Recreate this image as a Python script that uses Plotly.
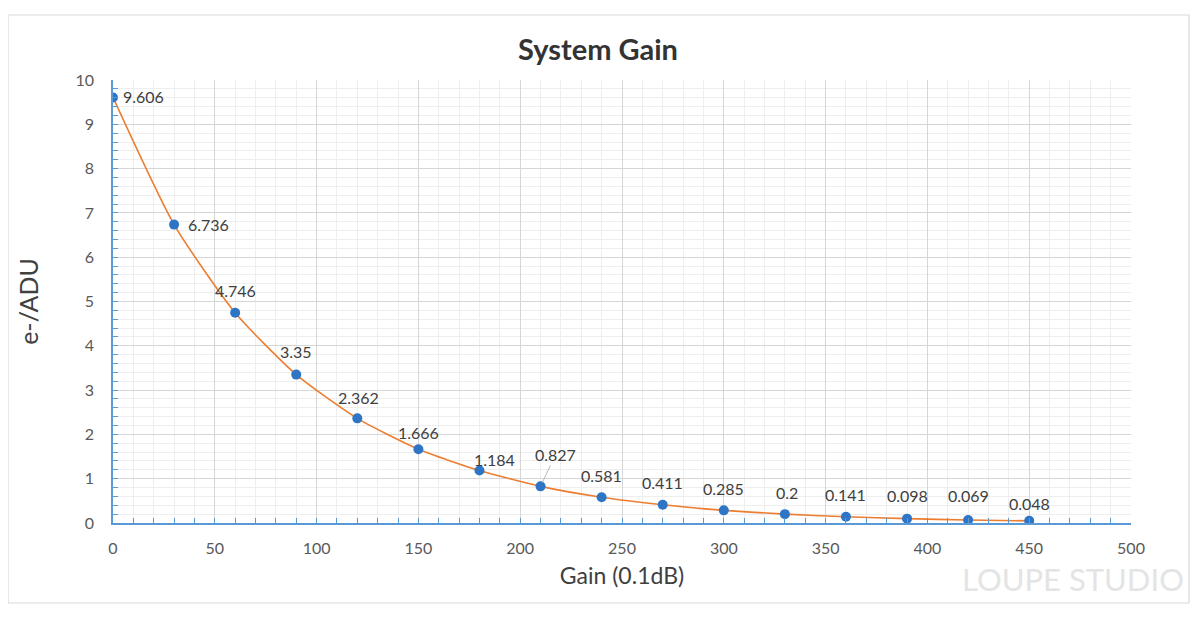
import plotly.graph_objects as go

gain = [0, 30, 60, 90, 120, 150, 180, 210, 240, 270, 300, 330, 360, 390, 420, 450]
e_adu = [9.606, 6.736, 4.746, 3.35, 2.362, 1.666, 1.184, 0.827, 0.581, 0.411,
         0.285, 0.2, 0.141, 0.098, 0.069, 0.048]
labels = ["9.606", "6.736", "4.746", "3.35", "2.362", "1.666", "1.184", "0.827", "0.581",
          "0.411", "0.285", "0.2", "0.141", "0.098", "0.069", "0.048"]
x_ticks = [0, 50, 100, 150, 200, 250, 300, 350, 400, 450, 500]
y_ticks = [0, 1, 2, 3, 4, 5, 6, 7, 8, 9, 10]

# label offsets in pixels (xshift, yshift, xanchor)
offsets = [(8, 1, "left"), (12, 0, "left"), (0, 22, "center"), (0, 23, "center"),
           (1, 21, "center"), (0, 17, "center"), (15, 11, "center"), (None, None, "arrow"),
           (0, 22, "center"), (0, 22, "center"), (0, 22, "center"), (2, 22, "center"),
           (0, 22, "center"), (0, 23, "center"), (0, 24, "center"), (0, 17, "center")]

FONT = "Lato, 'Open Sans', sans-serif"
AXIS_BLUE = "#5b9bd5"

# page body has an 8px margin: figure is placed at (8, 8) in the window
OFF = 8
FIG_W, FIG_H = 1200 - OFF, 637 - OFF
# plot area in window pixels
L, R, T, B = 113, 1131, 80, 523
W, H = R - L, B - T
def px(xp):
    return (xp - L) / W
def py(yp):
    return (B - yp) / H

fig = go.Figure()
fig.add_trace(go.Scatter(
    x=gain, y=e_adu, mode="lines+markers",
    line=dict(color="#ed7d31", width=1.6, shape="spline", smoothing=0.6),
    marker=dict(color="#2e75c6", size=10),
    showlegend=False, hoverinfo="x+y",
))

annotations = []
for xv, yv, txt, (dx, dy, anc) in zip(gain, e_adu, labels, offsets):
    if anc == "arrow":
        annotations.append(dict(x=xv, y=yv, text=txt, showarrow=True, arrowhead=0,
                                arrowwidth=0.8, arrowcolor="#a6a6a6", ax=15, ay=-32,
                                standoff=4, font=dict(size=16, color="#404040", family=FONT)))
    else:
        annotations.append(dict(x=xv, y=yv, text=txt, showarrow=False, xanchor=anc,
                                yanchor="middle", xshift=dx, yshift=dy,
                                font=dict(size=16, color="#404040", family=FONT)))

# watermark
annotations.append(dict(xref="paper", yref="paper", x=px(1186), y=py(579), text="LOUPE STUDIO",
                        showarrow=False, xanchor="right", yanchor="middle",
                        font=dict(size=31, color="#e4e4e4", family="Lato, sans-serif")))

shapes = [dict(type="rect", xref="paper", yref="paper",
               x0=px(8), x1=px(1189), y0=py(603), y1=py(15),
               line=dict(color="#d9d9d9", width=1.2), fillcolor="rgba(0,0,0,0)", layer="below")]

fig.update_layout(
    width=FIG_W, height=FIG_H,
    margin=dict(l=L - OFF, r=1200 - R, t=T - OFF, b=637 - B),
    paper_bgcolor="white", plot_bgcolor="white",
    title=dict(text="<b>System Gain</b>", x=(598 - OFF) / FIG_W, xanchor="center",
               y=1 - (50 - OFF) / FIG_H, yanchor="middle",
               xref="container", yref="container",
               font=dict(size=29, color="#333333", family=FONT)),
    annotations=annotations, shapes=shapes,
    font=dict(family=FONT, color="#595959"),
)

fig.update_xaxes(
    range=[0, 500], tickvals=x_ticks, ticktext=[str(v) for v in x_ticks],
    showline=True, linecolor=AXIS_BLUE, linewidth=1.5,
    ticks="inside", ticklen=5, tickcolor=AXIS_BLUE, tickwidth=1,
    showgrid=True, gridcolor="#d6d6d6", gridwidth=1, zeroline=False,
    minor=dict(dtick=10, showgrid=True, gridcolor="#eeeeee", ticks="inside", ticklen=5,
               tickcolor=AXIS_BLUE),
    tickfont=dict(size=16, color="#595959", family=FONT),
    ticklabelstandoff=10,
    title=dict(text="Gain (0.1dB)", font=dict(size=23, color="#404040", family=FONT), standoff=12),
)
fig.update_yaxes(
    range=[0, 10], tickvals=y_ticks, ticktext=[str(v) for v in y_ticks],
    showline=True, linecolor=AXIS_BLUE, linewidth=1.5,
    ticks="inside", ticklen=5, tickcolor=AXIS_BLUE, tickwidth=1,
    showgrid=True, gridcolor="#d6d6d6", gridwidth=1, zeroline=False,
    minor=dict(dtick=0.2, showgrid=True, gridcolor="#eeeeee", ticks="inside", ticklen=5,
               tickcolor=AXIS_BLUE),
    tickfont=dict(size=16, color="#595959", family=FONT),
    ticklabelstandoff=14,
    title=dict(text="e-/ADU", font=dict(size=25, color="#404040", family=FONT), standoff=30),
)

fig.write_html("out.html")
